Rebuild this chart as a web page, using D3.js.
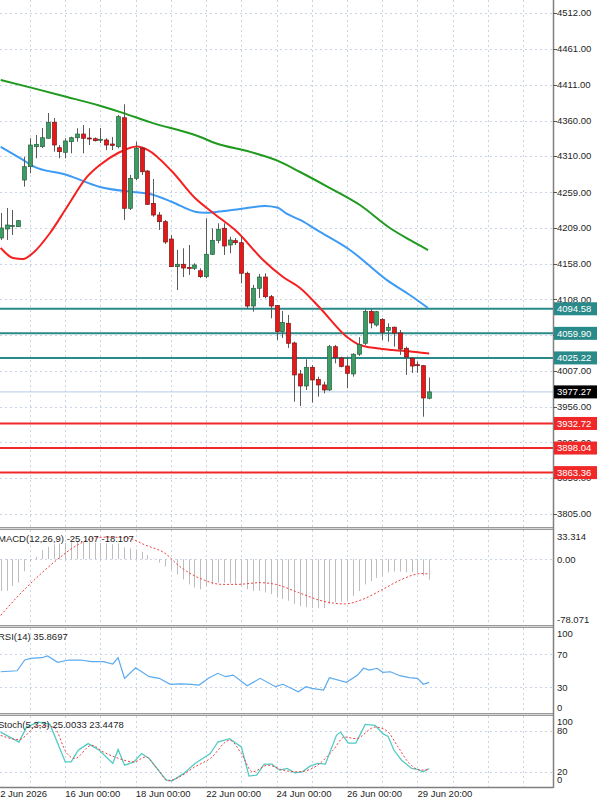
<!DOCTYPE html>
<html>
<head>
<meta charset="utf-8">
<script src="https://cdnjs.cloudflare.com/ajax/libs/d3/7.8.5/d3.min.js"></script>
<style>
  body { margin: 0; background: #fff; }
  svg { display: block; font-family: "Liberation Sans", Arial, sans-serif; }
</style>
</head>
<body>
<div id="container"></div>
<script>
// DATA ####################################
// H4 candles, oldest first
const opens = [4194.5,4207.2,4211.4,4210.4,4276.3,4295.1,4323.3,4323.3,4335.2,4357.8,
  4321.9,4315.4,4330.4,4336.0,4341.2,4335.6,4334.6,4333.5,4332.8,4327.1,
  4323.3,4364.2,4236.4,4278.7,4321.1,4289.0,4243.4,4226.9,4217.5,4193.0,
  4154.0,4157.4,4152.8,4151.7,4148.3,4139.9,4171.5,4191.0,4208.2,4184.6,
  4190.7,4187.8,4144.7,4098.5,4123.5,4139.4,4111.6,4099.2,4062.3,4074.1,
  4046.3,4002.6,3985.6,4012.0,3994.8,3987.1,3980.0,4041.1,4025.1,4013.8,
  4002.6,4030.5,4045.9,4090.8,4071.7,4079.5,4064.0,4068.6,4060.4,4038.8,
  4024.7,4015.7,4014.3,3968.3];
const highs = [4229.8,4236.8,4234.0,4219.9,4309.2,4335.2,4339.8,4349.7,4370.9,4363.8,
  4325.7,4335.2,4337.4,4349.3,4353.9,4349.3,4336.3,4349.7,4335.2,4337.0,
  4368.0,4383.2,4283.4,4330.4,4323.3,4290.4,4277.7,4231.1,4219.9,4198.7,
  4177.6,4179.9,4184.6,4158.7,4151.7,4222.3,4208.2,4215.2,4215.2,4196.3,
  4194.5,4196.3,4146.9,4128.2,4143.7,4144.7,4114.0,4099.9,4091.5,4085.8,
  4048.2,4008.2,4023.3,4015.2,3998.8,3991.7,4043.5,4043.5,4027.0,4027.0,
  4031.8,4054.4,4093.9,4093.9,4091.5,4081.2,4074.1,4069.3,4064.6,4041.1,
  4026.1,4020.0,4015.2,3997.6];
const lows = [4191.7,4191.7,4198.7,4210.0,4266.9,4285.8,4307.0,4321.5,4334.9,4316.3,
  4307.0,4307.0,4314.0,4330.4,4314.0,4325.7,4330.7,4328.6,4318.6,4318.6,
  4321.1,4219.9,4234.0,4276.3,4283.4,4241.0,4224.5,4205.8,4186.0,4153.5,
  4121.1,4139.4,4142.3,4149.3,4138.0,4137.6,4170.5,4187.0,4170.5,4172.9,
  4184.6,4130.5,4095.3,4090.5,4109.8,4109.4,4081.2,4050.5,4053.4,4039.3,
  3963.5,3957.4,3980.0,3962.1,3970.5,3975.3,3978.6,4017.6,4012.0,3982.4,
  3998.8,4028.0,4043.5,4067.0,4069.3,4050.5,4048.1,4041.1,4029.4,4001.2,
  4004.1,4004.1,3942.2,3966.8];
const closes = [4208.6,4212.8,4212.1,4218.9,4295.1,4325.7,4326.7,4336.0,4357.8,4325.7,
  4316.3,4331.4,4336.0,4341.2,4335.2,4334.8,4331.8,4333.8,4325.7,4325.0,
  4365.7,4236.4,4278.7,4321.1,4288.0,4242.0,4226.9,4217.5,4188.8,4154.0,
  4157.4,4152.1,4152.1,4156.4,4139.9,4171.5,4191.2,4206.8,4183.2,4191.6,
  4187.8,4144.7,4098.5,4123.5,4139.4,4111.6,4098.5,4062.3,4075.2,4045.9,
  4001.2,3985.6,4012.0,3994.1,3987.1,3980.0,4041.1,4026.1,4013.1,4003.5,
  4030.5,4044.2,4090.8,4074.5,4090.5,4061.5,4068.2,4060.4,4037.8,4026.5,
  4013.8,4014.8,3968.7,3977.27];

// moving averages as [candle position, price]
const maSlow = [[0,4417.5],[5.5,4406],[11.3,4393.5],[16.9,4381],[20.8,4371],[25.4,4358],
  [34,4337],[36.5,4328.5],[42.5,4316],[47.6,4302],[51,4287.6],[56.1,4265],[61.2,4241],
  [66.3,4208.6],[69.7,4191.7],[72.8,4177.5]];
const maMid = [[0,4323],[3.8,4304.6],[5.5,4296],[11.3,4283.4],[16.9,4266.5],[22.5,4259.4],
  [25.4,4256.6],[29.2,4245.3],[33.1,4231.6],[34.8,4230.2],[36.7,4231.2],[40.8,4235.4],
  [45,4239.6],[47.1,4237.5],[48.8,4228.4],[51,4219.9],[54.4,4203],[59.5,4177.6],
  [65.8,4135],[69.7,4114],[72.8,4095.7]];
const maFast = [[0,4180.4],[2.1,4166.3],[3.8,4164.8],[5.5,4173.3],[8.4,4201.5],[11.3,4238.2],
  [14.7,4280.6],[16.9,4297.5],[20,4314.4],[23.2,4323.6],[25.1,4318.6],[29.2,4288.3],
  [33.1,4250.9],[36.2,4229.8],[40.3,4203],[44.7,4163.4],[48.1,4139.4],[51,4123.9],
  [54.4,4095.7],[59,4054.8],[61.2,4043.5],[64.1,4038.8],[66.8,4036.4],[70.2,4034],[73,4031.5]];

const resistLevels = [4094.58, 4059.90, 4025.22];
const supportLevels = [3932.72, 3898.04, 3863.36];
const lastPrice = 3977.27;

const priceTicks = [4512,4461,4411,4360,4310,4259,4209,4158,4108,4057,4007,3956,3906,3856,3805];
const dateTicks = [-1, 11, 23, 35, 47, 59, 71];
const dateLabels = ["12 Jun 2026","16 Jun 00:00","18 Jun 00:00","22 Jun 00:00","24 Jun 00:00","26 Jun 00:00","29 Jun 20:00"];

const macdHist = [-38.8,-38.8,-32.8,-28.7,-14.8,-2.9,3.1,11.1,15.1,18.3,
  19.2,19.9,20.7,21.1,21.1,20.7,20.3,19.9,19.2,18.3,
  19.2,14.4,13.2,12,9.1,5.1,0.5,-4,-8.9,-12.8,
  -18.8,-24.8,-30.8,-34.7,-36.8,-32.8,-30.8,-28.7,-28.7,-29.5,
  -30.8,-32.8,-36.8,-38.8,-38.8,-40.7,-42.8,-46.7,-48.7,-50.8,
  -54.7,-57.5,-58.7,-59.9,-59.9,-59.9,-54.7,-52.7,-52,-50.8,
  -44.8,-38.8,-30.8,-26.8,-22.8,-20,-16,-15.2,-15.2,-16,
  -16,-16.8,-20,-25.107];
const macdSignal = [[0,-68.7],[3,-44.8],[6.4,-20.8],[9.7,0],[13,17.1],[15.5,25.1],[18,27.1],
  [21.4,26.3],[24.7,17.1],[28,7.2],[30.5,-8.9],[34.4,-24.8],[37.7,-30.8],[40.3,-30.8],
  [44.2,-28.7],[46.8,-30.8],[50.7,-40.7],[54.6,-50.8],[58.6,-54.7],[61.8,-48.7],
  [65.1,-36.8],[68.3,-24.8],[71.6,-17.6],[73,-18.107]];

const rsiValues = [[0,48.8],[2.8,50],[4.1,63],[5.1,65],[7,65.8],[8,67.9],[9.7,60.2],[11.6,63],
  [13.6,63],[15.5,61],[17.5,61],[19.1,58.2],[20,65.8],[21.1,40.8],[23,53.7],[25.3,42.8],
  [27,40.8],[28.9,33.6],[30.5,34],[32.5,33.6],[33.8,32.7],[35.4,40.8],[37,46.9],[38.3,42.8],
  [39.6,44.8],[42,31.9],[44.2,40.8],[46.8,30.7],[48.1,33.6],[50.7,24.6],[52,30.7],[53,28.7],
  [55,26.7],[56,41.6],[58.9,36],[60.8,44.8],[61.8,53],[62.8,50.9],[64.1,53],[65.1,48.1],
  [66.4,48.8],[68,44],[69.6,41.6],[71,40.8],[72,33.6],[73,35.87]];

const stochK = [[0,78.6],[3.1,64],[4.4,86],[6.4,93.3],[8.4,90],[11,34.7],[12,34.7],[13.2,51.8],
  [14.9,61.6],[16.8,51.8],[19.1,32.4],[20,52.9],[21.1,29.9],[22.7,34.7],[24,47],[25.3,39.7],
  [28.2,7.9],[29.2,6.9],[31.2,17.7],[33.1,32.4],[35.7,47],[37,64],[39,69],[41,56.7],
  [42.3,13.8],[43.6,15.2],[44.9,31.3],[46.2,31.3],[47.5,22.5],[48.8,25],[50.1,18.6],
  [51.4,20],[52.7,28.4],[54,32.4],[55.3,31.3],[57.2,73.8],[57.9,78.6],[59.2,62.5],
  [60.5,62.5],[62.1,90],[63.8,88.4],[65.1,76.3],[66,72.3],[67,51.8],[68.3,37.2],[70,25],
  [71,23.6],[72,20],[73,25.0]];
const stochD = [[0,73.8],[3.1,67.5],[6.4,88.4],[9,86],[11.3,47],[12.6,39.7],[15.5,59.2],
  [17.5,49.3],[19.4,42],[22.7,34.7],[24.7,42],[26.6,25],[28.6,6.9],[30.5,12.7],[33.1,27.4],
  [35.7,39.7],[39,66.5],[41,47],[42.9,20],[45.5,29.9],[48.1,22.5],[50.7,20],[54,29.9],
  [56.6,51.8],[58.6,71.3],[60.5,69],[63.8,86],[65.7,81.1],[67.7,56.7],[69.6,32.4],
  [71.6,22.5],[73,23.4]];

// LAYOUT ##################################
const width = 600, height = 803, axisX = 553;
const panels = {
  main: { top: 0, bottom: 527 },
  macd: { top: 530, bottom: 625 },
  rsi: { top: 628, bottom: 713 },
  stoch: { top: 716, bottom: 787 }
};
const gridColor = "#c9d4e4";
const textColor = "#1e1e1e";

// SCALES ##################################
const xScale = d3.scaleLinear().domain([0, 73]).range([0.7, 429.2]);
const yMain = d3.scaleLinear().domain([3786.6, 4530.35]).range([527, 0]);
const yMacd = d3.scaleLinear().domain([-78.071, 33.314]).range([623, 532]);
const yRsi = d3.scaleLinear().domain([0, 100]).range([712, 629.5]);
const yStoch = d3.scaleLinear().domain([0, 100]).range([785.4, 717.6]);

const svg = d3.select("#container").append("svg")
  .attr("width", width).attr("height", height)
  .style("background", "#fff");

const defs = svg.append("defs");
Object.entries(panels).forEach(([k, p]) => {
  defs.append("clipPath").attr("id", "clip-" + k)
    .append("rect").attr("x", 0).attr("y", p.top).attr("width", axisX).attr("height", p.bottom - p.top);
});

// GRID ####################################
const gridIdx = d3.range(5, 90, 6);
Object.entries(panels).forEach(([k, p]) => {
  svg.append("g").selectAll("line").data(gridIdx).join("line")
    .attr("x1", d => Math.round(xScale(d)) + 0.5).attr("x2", d => Math.round(xScale(d)) + 0.5)
    .attr("y1", p.top).attr("y2", p.bottom)
    .attr("stroke", gridColor).attr("stroke-dasharray", "2,3");
});
svg.append("g").selectAll("line").data(priceTicks).join("line")
  .attr("x1", 0).attr("x2", axisX)
  .attr("y1", d => Math.round(yMain(d)) + 0.5).attr("y2", d => Math.round(yMain(d)) + 0.5)
  .attr("stroke", gridColor).attr("stroke-dasharray", "2,3");
[[yMacd, 0], [yRsi, 70], [yRsi, 30], [yStoch, 80], [yStoch, 20]].forEach(([s, v]) => {
  svg.append("line").attr("x1", 0).attr("x2", axisX)
    .attr("y1", Math.round(s(v)) + 0.5).attr("y2", Math.round(s(v)) + 0.5)
    .attr("stroke", gridColor).attr("stroke-dasharray", "2,3");
});

// MAIN PANEL ##############################
const gMain = svg.append("g").attr("clip-path", "url(#clip-main)");

// price line
gMain.append("line").attr("x1", 0).attr("x2", axisX)
  .attr("y1", yMain(lastPrice)).attr("y2", yMain(lastPrice))
  .attr("stroke", "#b4cbe6").attr("stroke-width", 1);

// level lines
gMain.selectAll("line.res").data(resistLevels).join("line").attr("class", "res")
  .attr("x1", 0).attr("x2", axisX)
  .attr("y1", d => yMain(d)).attr("y2", d => yMain(d))
  .attr("stroke", "#2a8a8a").attr("stroke-width", 2);
gMain.selectAll("line.sup").data(supportLevels).join("line").attr("class", "sup")
  .attr("x1", 0).attr("x2", axisX)
  .attr("y1", d => yMain(d)).attr("y2", d => yMain(d))
  .attr("stroke", "#f02828").attr("stroke-width", 2);

// moving averages
const maLine = d3.line().x(d => xScale(d[0])).y(d => yMain(d[1])).curve(d3.curveMonotoneX);
[[maSlow, "#1f9a1f"], [maMid, "#3d9bf5"], [maFast, "#f52020"]].forEach(([data, color]) => {
  gMain.append("path").datum(data).attr("d", maLine)
    .attr("fill", "none").attr("stroke", color).attr("stroke-width", 2);
});

// candles
const candles = opens.map((o, i) => ({ i, o, h: highs[i], l: lows[i], c: closes[i] }));
const cg = gMain.append("g").selectAll("g").data(candles).join("g");
cg.append("line")
  .attr("x1", d => Math.round(xScale(d.i)) + 0.5).attr("x2", d => Math.round(xScale(d.i)) + 0.5)
  .attr("y1", d => yMain(d.h)).attr("y2", d => yMain(d.l))
  .attr("stroke", "#5a5a5a").attr("stroke-width", 1);
cg.append("rect")
  .attr("x", d => Math.round(xScale(d.i)) - 1.5)
  .attr("width", 4)
  .attr("y", d => yMain(Math.max(d.o, d.c)))
  .attr("height", d => Math.max(1, Math.abs(yMain(d.o) - yMain(d.c))))
  .attr("fill", d => d.c >= d.o ? "#3c9c64" : "#e81818")
  .attr("stroke", d => d.c >= d.o ? "#25613e" : "#7a1414")
  .attr("stroke-width", 0.7);

// MACD ####################################
const gMacd = svg.append("g").attr("clip-path", "url(#clip-macd)");
gMacd.selectAll("line").data(macdHist).join("line")
  .attr("x1", (d, i) => Math.round(xScale(i)) + 0.5).attr("x2", (d, i) => Math.round(xScale(i)) + 0.5)
  .attr("y1", yMacd(0)).attr("y2", d => yMacd(d))
  .attr("stroke", "#bdbdbd").attr("stroke-width", 1);
gMacd.append("path").datum(macdSignal)
  .attr("d", d3.line().x(d => xScale(d[0])).y(d => yMacd(d[1])).curve(d3.curveMonotoneX))
  .attr("fill", "none").attr("stroke", "#f04040").attr("stroke-width", 1).attr("stroke-dasharray", "2,2");

// RSI #####################################
svg.append("g").attr("clip-path", "url(#clip-rsi)").append("path").datum(rsiValues)
  .attr("d", d3.line().x(d => xScale(d[0])).y(d => yRsi(d[1])))
  .attr("fill", "none").attr("stroke", "#5aaaf0").attr("stroke-width", 1.2);

// STOCH ###################################
const gSto = svg.append("g").attr("clip-path", "url(#clip-stoch)");
gSto.append("path").datum(stochK)
  .attr("d", d3.line().x(d => xScale(d[0])).y(d => yStoch(d[1])))
  .attr("fill", "none").attr("stroke", "#52cbc4").attr("stroke-width", 1.3);
gSto.append("path").datum(stochD)
  .attr("d", d3.line().x(d => xScale(d[0])).y(d => yStoch(d[1])).curve(d3.curveMonotoneX))
  .attr("fill", "none").attr("stroke", "#f04040").attr("stroke-width", 1).attr("stroke-dasharray", "2,2");

// FRAME ###################################
[panels.main.bottom, panels.macd.bottom, panels.rsi.bottom].forEach(y => {
  svg.append("rect").attr("x", 0).attr("y", y).attr("width", axisX).attr("height", 3).attr("fill", "#9a9a9a");
  svg.append("line").attr("x1", 0).attr("x2", axisX).attr("y1", y + 1.5).attr("y2", y + 1.5)
    .attr("stroke", "#d6d6d6").attr("stroke-width", 1);
});
svg.append("line").attr("x1", 0).attr("x2", axisX).attr("y1", panels.stoch.bottom + 0.5).attr("y2", panels.stoch.bottom + 0.5)
  .attr("stroke", "#808080").attr("stroke-width", 1.5);
svg.append("line").attr("x1", axisX + 0.5).attr("x2", axisX + 0.5).attr("y1", 0).attr("y2", panels.stoch.bottom + 1)
  .attr("stroke", "#808080").attr("stroke-width", 1.5);

// AXES & LABELS ###########################
const fs = "9.5px";
function axisLabel(y, txt) {
  svg.append("line").attr("x1", axisX).attr("x2", axisX + 4).attr("y1", Math.round(y) + 0.5).attr("y2", Math.round(y) + 0.5)
    .attr("stroke", "#555");
  svg.append("text").attr("x", axisX + 4).attr("y", y).attr("dy", "0.35em")
    .attr("font-size", fs).attr("fill", textColor).text(txt);
}
priceTicks.forEach(p => axisLabel(yMain(p), p.toFixed(2)));

function levelTag(price, bg) {
  const y = yMain(price);
  svg.append("rect").attr("x", axisX + 1).attr("y", y - 6.5).attr("width", 43).attr("height", 13).attr("fill", bg);
  svg.append("text").attr("x", axisX + 4).attr("y", y).attr("dy", "0.35em")
    .attr("font-size", fs).attr("fill", "#fff").text(price.toFixed(2));
}
resistLevels.forEach(p => levelTag(p, "#2a8a8a"));
supportLevels.forEach(p => levelTag(p, "#f02828"));
levelTag(lastPrice, "#000");

// sub-window scales
[[537, "33.314"], [yMacd(0), "0.00"], [620, "-78.071"],
 [634, "100"], [yRsi(70), "70"], [yRsi(30), "30"], [708, "0"],
 [721.5, "100"], [yStoch(80), "80"], [yStoch(20), "20"], [780, "0"]]
  .forEach(([y, t]) => {
    svg.append("text").attr("x", axisX + 4).attr("y", y).attr("dy", "0.35em")
      .attr("font-size", fs).attr("fill", textColor).text(t);
  });

// indicator titles
[[541.5, "MACD(12,26,9) -25.107 -18.107"],
 [639.5, "RSI(14) 35.8697"],
 [727.5, "Stoch(5,3,3) 25.0033 23.4478"]].forEach(([y, t]) => {
  svg.append("text").attr("x", -2).attr("y", y).attr("font-size", fs).attr("fill", textColor).text(t);
});

// time axis
svg.append("g").selectAll("text").data(dateTicks).join("text")
  .attr("x", d => xScale(d)).attr("y", 797)
  .attr("font-size", fs).attr("fill", textColor)
  .text((d, i) => dateLabels[i]);
</script>
</body>
</html>
